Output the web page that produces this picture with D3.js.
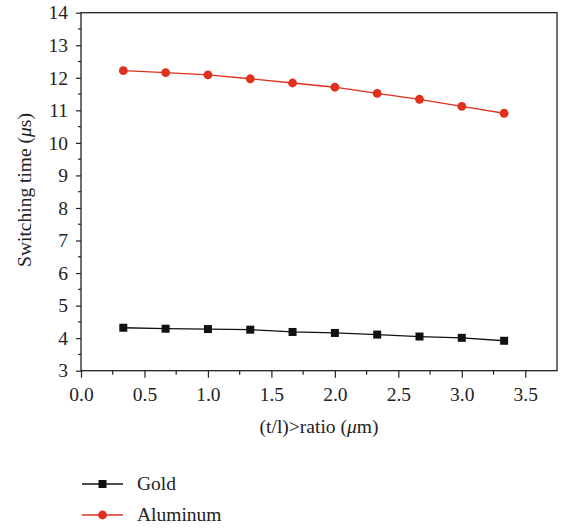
<!DOCTYPE html>
<html>
<head>
<meta charset="utf-8">
<script src="https://cdn.jsdelivr.net/npm/d3@7"></script>
<style>
  body { margin: 0; background: #fff; }
</style>
</head>
<body>
<svg id="chart" width="566" height="529"></svg>
<script>
// x positions: t/l ratio
const ratios = [1/3, 2/3, 1, 4/3, 5/3, 2, 7/3, 8/3, 3, 10/3]
// switching time (us)
const goldTimes = [4.32, 4.29, 4.28, 4.26, 4.19, 4.16, 4.11, 4.05, 4.01, 3.92]
const aluminumTimes = [12.22, 12.16, 12.09, 11.97, 11.84, 11.71, 11.52, 11.34, 11.12, 10.91]
const xTicks = [0, 0.5, 1, 1.5, 2, 2.5, 3, 3.5]
const yTicks = [3, 4, 5, 6, 7, 8, 9, 10, 11, 12, 13, 14]

const series = [
  { name: "Gold", values: goldTimes, color: "#111", shape: "square" },
  { name: "Aluminum", values: aluminumTimes, color: "#e0301e", shape: "circle" }
]

const fontFamily = '"Liberation Serif", "Times New Roman", serif'
const fontSize = "19.5px"
const ink = "#222"

const svg = d3.select("#chart")
const plotLeft = 81, plotRight = 557, plotTop = 12.7, plotBottom = 370.7

const x = d3.scaleLinear().domain([0, 3.75]).range([plotLeft, plotRight])
const y = d3.scaleLinear().domain([3, 14]).range([plotBottom, plotTop])

// frame
svg.append("rect")
  .attr("x", plotLeft).attr("y", plotTop)
  .attr("width", plotRight - plotLeft).attr("height", plotBottom - plotTop)
  .attr("fill", "none").attr("stroke", ink).attr("stroke-width", 1.3)

// minor ticks
const xMinor = d3.range(0.25, 3.75, 0.5)
const yMinor = d3.range(3.5, 14, 1)
svg.append("g").selectAll("line").data(xMinor).join("line")
  .attr("x1", d => x(d)).attr("x2", d => x(d))
  .attr("y1", plotBottom).attr("y2", plotBottom + 4)
  .attr("stroke", ink).attr("stroke-width", 1.2)
svg.append("g").selectAll("line").data(yMinor).join("line")
  .attr("y1", d => y(d)).attr("y2", d => y(d))
  .attr("x1", plotLeft).attr("x2", plotLeft - 3)
  .attr("stroke", ink).attr("stroke-width", 1.2)

// axes
const xAxis = svg.append("g")
  .attr("transform", `translate(0,${plotBottom})`)
  .call(d3.axisBottom(x).tickValues(xTicks).tickFormat(d3.format(".1f")).tickSize(7).tickPadding(9))
const yAxis = svg.append("g")
  .attr("transform", `translate(${plotLeft},0)`)
  .call(d3.axisLeft(y).tickValues(yTicks).tickFormat(d3.format("d")).tickSize(5).tickPadding(8))

;[xAxis, yAxis].forEach(g => {
  g.select(".domain").remove()
  g.selectAll("line").attr("stroke", ink).attr("stroke-width", 1.2)
  g.selectAll("text").style("font-family", fontFamily).style("font-size", fontSize).attr("fill", ink)
})

// axis titles
const xTitle = svg.append("text")
  .attr("x", 319).attr("y", 433)
  .attr("text-anchor", "middle")
  .style("font-family", fontFamily).style("font-size", fontSize).attr("fill", ink)
xTitle.append("tspan").text("(t/l)>ratio (")
xTitle.append("tspan").style("font-style", "italic").text("μ")
xTitle.append("tspan").text("m)")

const yTitle = svg.append("text")
  .attr("transform", `translate(31,190) rotate(-90)`)
  .attr("text-anchor", "middle")
  .style("font-family", fontFamily).style("font-size", fontSize).attr("fill", ink)
yTitle.append("tspan").text("Switching time (")
yTitle.append("tspan").style("font-style", "italic").text("μ")
yTitle.append("tspan").text("s)")

// lines and markers
const line = d3.line().x((d, i) => x(ratios[i])).y(d => y(d))

function drawMarker(g, shape, color, cx, cy) {
  if (shape === "square") {
    g.append("rect").attr("x", cx - 4).attr("y", cy - 4)
      .attr("width", 8).attr("height", 8).attr("fill", color)
  } else {
    g.append("circle").attr("cx", cx).attr("cy", cy).attr("r", 4.4).attr("fill", color)
  }
}

series.forEach(s => {
  const g = svg.append("g")
  g.append("path").datum(s.values)
    .attr("d", line).attr("fill", "none")
    .attr("stroke", s.color).attr("stroke-width", 1.3)
  s.values.forEach((v, i) => drawMarker(g, s.shape, s.color, x(ratios[i]), y(v)))
})

// legend
series.forEach((s, i) => {
  const ly = 484 + i * 31
  const g = svg.append("g")
  g.append("line").attr("x1", 82).attr("x2", 123).attr("y1", ly).attr("y2", ly)
    .attr("stroke", s.color).attr("stroke-width", 1.3)
  drawMarker(g, s.shape, s.color, 102.5, ly)
  g.append("text").attr("x", 137).attr("y", ly + 5.5)
    .style("font-family", fontFamily).style("font-size", fontSize).attr("fill", ink)
    .text(s.name)
})
</script>
</body>
</html>
